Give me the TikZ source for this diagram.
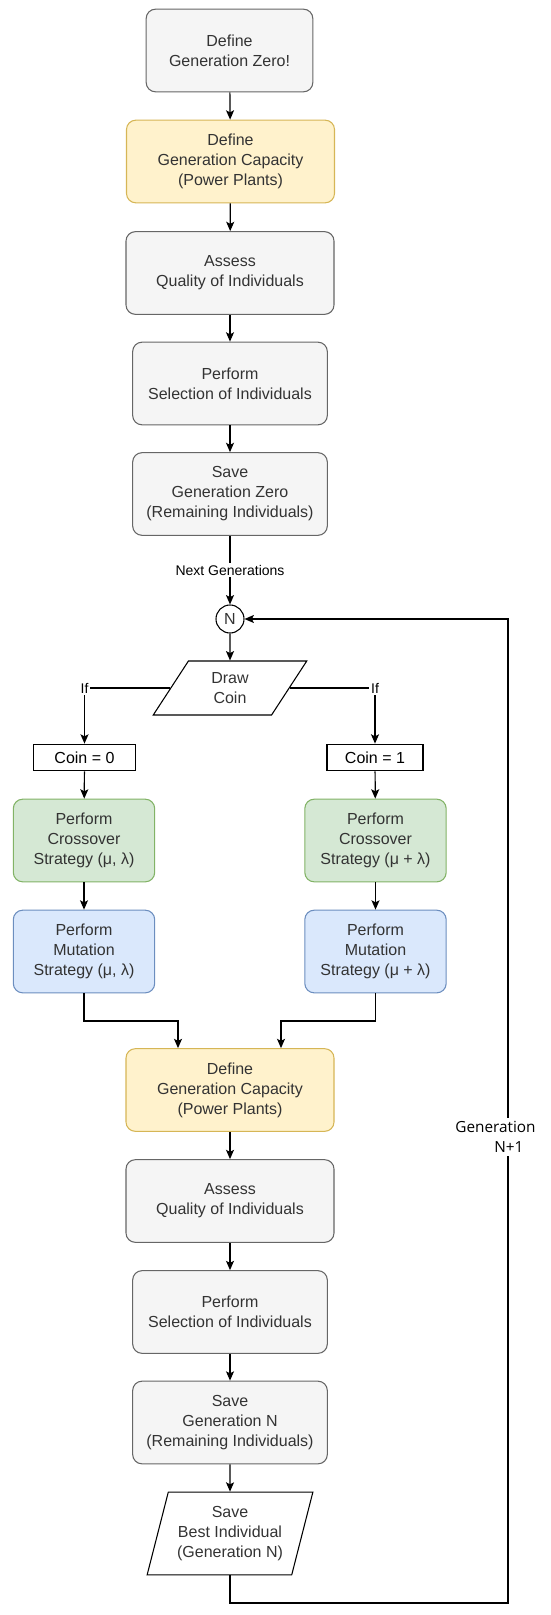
\documentclass[tikz,border=0pt]{standalone}
\usepackage{fontspec}
\setmainfont{Liberation Sans}
\newfontfamily\genfont{Open Sans}
\usetikzlibrary{shapes.geometric,arrows.meta}
\definecolor{greyfill}{HTML}{F5F5F5}
\definecolor{greyline}{HTML}{666666}
\definecolor{greytext}{HTML}{333333}
\definecolor{yelfill}{HTML}{FFF2CC}
\definecolor{yelline}{HTML}{D6B656}
\definecolor{grnfill}{HTML}{D5E8D4}
\definecolor{grnline}{HTML}{82B366}
\definecolor{bluefill}{HTML}{DAE8FC}
\definecolor{blueline}{HTML}{6C8EBF}
\begin{document}
\begin{tikzpicture}[x=0.75pt,y=-0.75pt,
  every node/.style={font=\fontsize{12}{15}\selectfont},
  box/.style={rectangle, rounded corners=7pt, draw=greyline, fill=greyfill, text=greytext, align=center, line width=0.8pt, minimum height=62pt},
  capbox/.style={box, draw=yelline, fill=yelfill},
  crossbox/.style={box, draw=grnline, fill=grnfill, minimum width=106pt},
  mutbox/.style={box, draw=blueline, fill=bluefill, minimum width=106pt},
  coinbox/.style={rectangle, draw, line width=0.8pt, minimum height=20pt, inner sep=1pt},
  iobox/.style={trapezium, trapezium stretches=true, draw, line width=0.8pt, text=greytext, align=center, inner sep=1pt},
  lbl/.style={fill=white, inner sep=1.5pt, font=\fontsize{10.5}{12}\selectfont},
  arr/.style={line width=0.9pt, -{Stealth[length=7pt,width=6pt,inset=1.5pt]}},
  line/.style={line width=0.9pt}]
\useasboundingbox (0,0) rectangle (550,1615);
% generation zero
\node[box, minimum width=125pt] (def0) at (229.5,50.5) {Define\\Generation Zero!};
\node[capbox, minimum width=156pt] (cap0) at (230.5,161.5) {Define\\Generation Capacity\\(Power Plants)};
\node[box, minimum width=156pt] (qual0) at (230,273) {Assess\\Quality of Individuals};
\node[box, minimum width=146pt] (sel0) at (230,383.5) {Perform\\Selection of Individuals};
\node[box, minimum width=146pt] (save0) at (230,494) {Save\\Generation Zero\\(Remaining Individuals)};
\draw[arr] (def0) -- (cap0);
\draw[arr] (cap0) -- (qual0);
\draw[arr] (qual0) -- (sel0);
\draw[arr] (sel0) -- (save0);
% next generations
\node[circle, draw, line width=0.8pt, minimum size=21pt, inner sep=0pt, text=greytext] (gen) at (230,619) {N};
\draw[arr] (save0) -- node[lbl] (nextlbl) {Next Generations} (gen);
\node[iobox, trapezium left angle=63.4, trapezium right angle=116.6, minimum width=115.5pt, minimum height=40.5pt] (coin) at (230,688) {Draw\\Coin};
\draw[arr] (gen) -- (coin);
\node[coinbox, minimum width=76pt] (c0) at (84.5,757.5) {Coin = 0};
\node[coinbox, minimum width=72pt] (c1) at (375,757.5) {Coin = 1};
\draw[arr] (coin.west) -| node[lbl, pos=0.5] (ifl) {If} (c0);
\draw[arr] (coin.east) -| node[lbl, pos=0.5] (ifr) {If} (c1);
% the two strategies
\node[crossbox] (cross0) at (84,840.5) {Perform\\Crossover\\Strategy (μ, λ)};
\node[crossbox] (cross1) at (375.5,840.5) {Perform\\Crossover\\Strategy (μ + λ)};
\node[mutbox] (mut0) at (84,951.5) {Perform\\Mutation\\Strategy (μ, λ)};
\node[mutbox] (mut1) at (375.5,951.5) {Perform\\Mutation\\Strategy (μ + λ)};
\draw[arr] (c0) -- (cross0);
\draw[arr] (c1) -- (cross1);
\draw[arr] (cross0) -- (mut0);
\draw[arr] (cross1) -- (mut1);
% generation N
\node[capbox, minimum width=156pt] (capn) at (230,1090) {Define\\Generation Capacity\\(Power Plants)};
\node[box, minimum width=156pt] (qualn) at (230,1201) {Assess\\Quality of Individuals};
\node[box, minimum width=146pt] (seln) at (230,1312) {Perform\\Selection of Individuals};
\node[box, minimum width=146pt] (saven) at (230,1422.5) {Save\\Generation N\\(Remaining Individuals)};
\node[iobox, trapezium left angle=72, trapezium right angle=108, minimum width=124.5pt, minimum height=62pt, text=greytext] (best) at (230,1533.5) {Save\\Best Individual\\(Generation N)};
\coordinate (ml) at (178,1021);
\coordinate (mr) at (281,1021);
\draw[arr] (mut0.south) |- (ml) -- (ml |- capn.north);
\draw[arr] (mut1.south) |- (mr) -- (mr |- capn.north);
\draw[arr] (capn) -- (qualn);
\draw[arr] (qualn) -- (seln);
\draw[arr] (seln) -- (saven);
\draw[arr] (saven) -- (best);
% loop back
\coordinate (loop) at (508,1603);
\draw[arr] (best.south) |- (loop) |- (gen.east);
\node[fill=white, inner sep=2pt, align=center, font=\genfont\fontsize{11.5}{15.5}\selectfont] (genlbl) at (495.5,1137) {Generation\\\hspace*{20pt}N+1};
\end{tikzpicture}
\end{document}
